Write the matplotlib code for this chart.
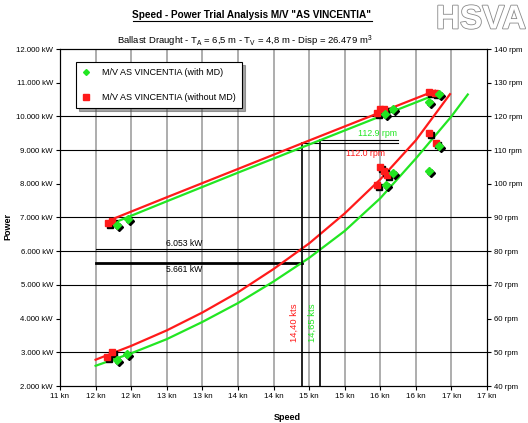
import numpy as np
import matplotlib.pyplot as plt
import matplotlib.patheffects as pe
from matplotlib import transforms
from matplotlib.lines import Line2D

plt.rcParams['font.family'] = ['Liberation Sans', 'DejaVu Sans']

# trial points, power (speed in kn, power in kW)
pw_md_speed = [11.80, 11.94, 15.58, 15.68, 16.19, 16.32]
pw_md_kw = [2770, 2950, 7960, 8310, 8390, 9120]
pw_nomd_speed = [11.66, 11.73, 15.46, 15.50, 15.55, 15.59, 16.18, 16.28]
pw_nomd_kw = [2860, 3010, 7950, 8490, 8380, 8260, 9500, 9220]

# trial points, shaft speed (rpm)
rpm_md_speed = [11.80, 11.96, 15.57, 15.68, 16.19, 16.32]
rpm_md = [87.8, 89.5, 120.7, 122.1, 124.4, 126.6]
rpm_nomd_speed = [11.68, 11.73, 15.46, 15.50, 15.55, 16.18, 16.27]
rpm_nomd = [88.5, 89.1, 120.9, 122.2, 122.1, 127.3, 127.0]

# fitted curves
pw_fit_md_speed = [11.5, 12.0, 12.5, 13.0, 13.5, 14.0, 14.5, 15.0, 15.5, 16.0, 16.5, 16.73]
pw_fit_md = [2600, 2970, 3390, 3900, 4460, 5100, 5800, 6600, 7570, 8750, 10000, 10650]
pw_fit_nomd_speed = [11.5, 12.0, 12.5, 13.0, 13.5, 14.0, 14.5, 15.0, 15.5, 16.0, 16.48]
pw_fit_nomd = [2780, 3190, 3650, 4180, 4780, 5470, 6230, 7120, 8130, 9290, 10660]

rpm_fit_md_speed = [11.80, 12.5, 13.5, 14.65, 15.5, 16.32]
rpm_fit_md = [88.8, 94.8, 103.3, 112.9, 120.0, 126.8]
rpm_fit_nomd_speed = [11.77, 12.5, 13.5, 14.40, 15.5, 16.27]
rpm_fit_nomd = [89.8, 96.0, 104.4, 112.0, 121.2, 127.6]

# contract point read-outs
v_md, v_nomd = 14.65, 14.40
p_md, p_nomd = 5661, 6053
n_md, n_nomd = 112.9, 112.0

x_ticks = np.arange(11, 17.01, 0.5)
x_labels = ['11 kn', '12 kn', '12 kn', '13 kn', '13 kn', '14 kn', '14 kn',
            '15 kn', '15 kn', '16 kn', '16 kn', '17 kn', '17 kn']
kw_ticks = np.arange(2000, 12001, 1000)
kw_labels = ['2.000 kW', '3.000 kW', '4.000 kW', '5.000 kW', '6.000 kW', '7.000 kW',
             '8.000 kW', '9.000 kW', '10.000 kW', '11.000 kW', '12.000 kW']
rpm_ticks = np.arange(40, 141, 10)
rpm_labels = [f'{r} rpm' for r in rpm_ticks]
hgrid_kw = [3000, 5000, 6000, 7000, 9000, 10000]

GREEN = '#22e622'
RED = '#ff1a1a'

fig = plt.figure(figsize=(5.28, 4.23), dpi=100)
ax = fig.add_axes([60 / 528, 37 / 423, 427 / 528, 337 / 423])
ax2 = ax.twinx()

ax.set_xlim(11, 17)
ax.set_ylim(2000, 12000)
ax2.set_ylim(40, 140)

for v in x_ticks[1:-1]:
    ax.axvline(v, color='#a0a0a0', lw=1.2, zorder=1)
for p in hgrid_kw:
    ax.axhline(p, color='black', lw=0.8, zorder=1)

ax.set_xticks(x_ticks)
ax.set_xticklabels(x_labels, fontsize=5.8)
ax.set_yticks(kw_ticks)
ax.set_yticklabels(kw_labels, fontsize=5.6)
ax2.set_yticks(rpm_ticks)
ax2.set_yticklabels(rpm_labels, fontsize=5.6)
for a in (ax, ax2):
    a.tick_params(length=3, width=0.8, pad=2, direction='out')
    for s in a.spines.values():
        s.set_linewidth(0.8)

# shadow offset for markers
sh = transforms.offset_copy(ax.transData, fig=fig, x=2, y=-2, units='dots')
sh2 = transforms.offset_copy(ax2.transData, fig=fig, x=2, y=-2, units='dots')

# fitted curves
ax.plot(pw_fit_md_speed, pw_fit_md, color=GREEN, lw=1.6, zorder=3)
ax.plot(pw_fit_nomd_speed, pw_fit_nomd, color=RED, lw=1.6, zorder=3)
ax2.plot(rpm_fit_md_speed, rpm_fit_md, color=GREEN, lw=1.6, zorder=3)
ax2.plot(rpm_fit_nomd_speed, rpm_fit_nomd, color=RED, lw=1.6, zorder=3)

# measured points with drop shadow
ax.plot(pw_nomd_speed, pw_nomd_kw, 's', color='black', ms=4.5, transform=sh, zorder=4)
ax.plot(pw_nomd_speed, pw_nomd_kw, 's', color=RED, ms=4.5, zorder=5)
ax.plot(pw_md_speed, pw_md_kw, 'D', color='black', ms=4.2, transform=sh, zorder=4)
ax.plot(pw_md_speed, pw_md_kw, 'D', color=GREEN, ms=4.2, zorder=5)
ax2.plot(rpm_nomd_speed, rpm_nomd, 's', color='black', ms=4.5, transform=sh2, zorder=4)
ax2.plot(rpm_nomd_speed, rpm_nomd, 's', color=RED, ms=4.5, zorder=5)
ax2.plot(rpm_md_speed, rpm_md, 'D', color='black', ms=4.2, transform=sh2, zorder=4)
ax2.plot(rpm_md_speed, rpm_md, 'D', color=GREEN, ms=4.2, zorder=5)

# read-out lines
ax.plot([11.5, v_md], [p_nomd, p_nomd], color='black', lw=0.8, zorder=2)
ax.plot([11.5, v_nomd], [p_md, p_md], color='black', lw=2.0, zorder=2)
ax2.plot([v_nomd, v_nomd], [40, n_nomd], color='black', lw=1.2, zorder=2)
ax2.plot([v_md, v_md], [40, n_md], color='black', lw=1.2, zorder=2)
ax2.plot([v_nomd, 15.75], [n_nomd, n_nomd], color='black', lw=0.8, zorder=2)
ax2.plot([v_md, 15.75], [n_md, n_md], color='black', lw=0.8, zorder=2)

ax.text(12.75, 6230, f'{p_nomd:,} kW'.replace(',', '.'), fontsize=6.2, ha='center', va='center')
ax.text(12.75, 5460, f'{p_md:,} kW'.replace(',', '.'), fontsize=6.2, ha='center', va='center')
ax2.text(15.74, 114.8, f'{n_md} rpm', color=GREEN, fontsize=6.3, ha='right', va='center')
ax2.text(15.29, 109.1, f'{n_nomd} rpm', color=RED, fontsize=6.3, ha='center', va='center')
ax.text(14.29, 3870, f'{v_nomd:.2f} kts'.replace('.', ','), color=RED, fontsize=6.8,
        rotation=90, ha='center', va='center')
ax.text(14.55, 3870, f'{v_md:.2f} kts'.replace('.', ','), color=GREEN, fontsize=6.8,
        rotation=90, ha='center', va='center')

# legend
handles = [Line2D([], [], ls='none', marker='D', color=GREEN, ms=3),
           Line2D([], [], ls='none', marker='s', color=RED, ms=4)]
leg = ax2.legend(handles, ['M/V AS VINCENTIA (with MD)', 'M/V AS VINCENTIA (without MD)'],
                 loc='upper left', bbox_to_anchor=(0.037, 0.961), borderaxespad=0,
                 fontsize=6.5, frameon=True, fancybox=False, shadow=True,
                 edgecolor='black', framealpha=1, labelspacing=1.7, borderpad=0.7,
                 handlelength=0.8, handletextpad=1.4)
leg.get_frame().set_linewidth(0.8)
leg.set_zorder(10)

ax.set_xlabel('Speed', fontsize=6.5, fontweight='bold', labelpad=10)
ax.xaxis.set_label_coords(0.5 + 14 / 427, -0.08)
fig.text(8 / 528, 1 - 226 / 423, 'Power', fontsize=6.5, fontweight='bold',
         rotation=90, ha='center', va='center')

title = fig.text(252 / 528, 1 - 15 / 423, 'Speed - Power Trial Analysis M/V "AS VINCENTIA"',
                 fontsize=7.2, fontweight='bold', ha='center', va='center')
fig.text(245 / 528, 1 - 41 / 423,
         r'Ballast Draught - T$_\mathregular{A}$ = 6,5 m - T$_\mathregular{V}$ = 4,8 m - Disp = 26.479 m$^\mathregular{3}$',
         fontsize=6.8, ha='center', va='center')

# HSVA logo lettering
fig.text(481 / 528, 1 - 20 / 423, 'HSVA', fontsize=24, fontweight='bold', color='white',
         ha='center', va='center',
         path_effects=[pe.withStroke(linewidth=1.2, foreground='#8a8a8a')])

# underline the title
fig.canvas.draw()
bb = title.get_window_extent()
fig.add_artist(Line2D([bb.x0 / 528, bb.x1 / 528], [(bb.y0 - 1) / 423, (bb.y0 - 1) / 423],
                      color='black', lw=0.8))

fig.savefig('out.png', dpi=100)
